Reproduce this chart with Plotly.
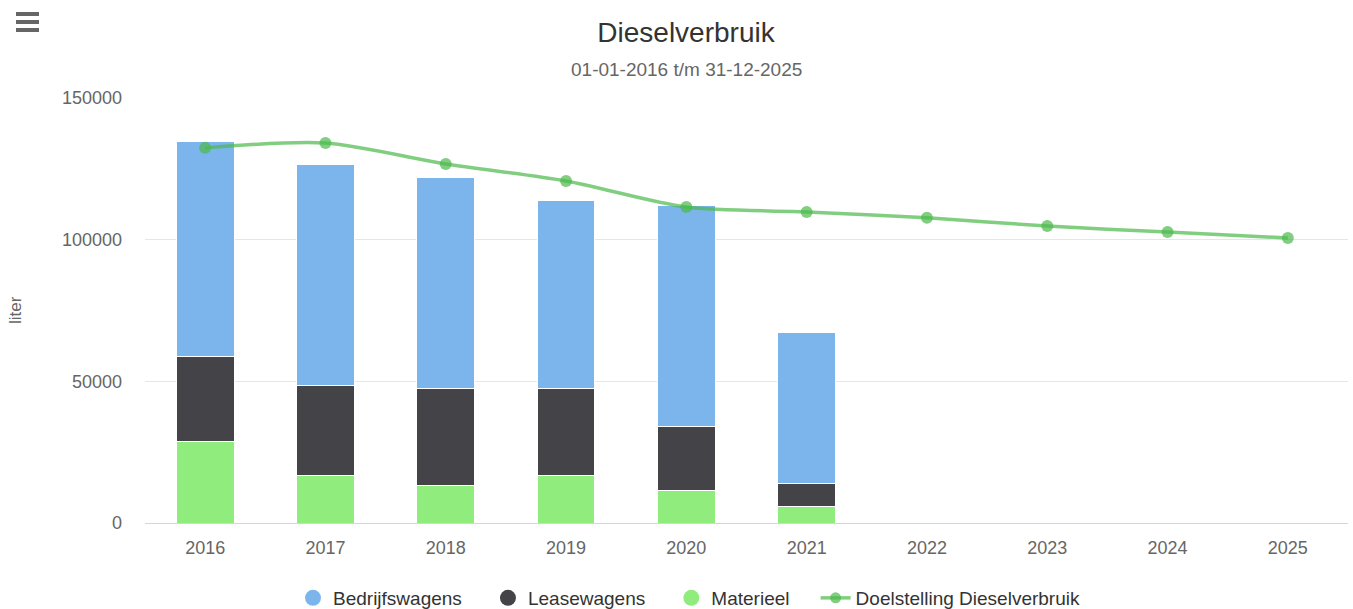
import plotly.graph_objects as go

years = ["2016", "2017", "2018", "2019", "2020", "2021", "2022", "2023", "2024", "2025"]
bedrijfswagens = [75900, 78300, 74800, 66400, 78000, 53300, None, None, None, None]
leasewagens = [29700, 31500, 34200, 30400, 22600, 8100, None, None, None, None]
materieel = [28900, 16900, 13100, 16900, 11300, 6000, None, None, None, None]
doelstelling = [132400, 134100, 126700, 120700, 111500, 109800, 107700, 104800, 102700, 100600]
y_ticks = [0, 50000, 100000, 150000]

C_BED = "#7cb5ec"
C_LEASE = "#434348"
C_MAT = "#90ed7d"
C_LINE = "rgba(76,185,76,0.7)"

W, H = 1353, 609
L, R, T, B = 145, 5, 98, 86
FONT = "Liberation Sans, Arial, sans-serif"
PAD = "\u00a0" * 4

fig = go.Figure()
for name, vals, col in [("Materieel", materieel, C_MAT), ("Leasewagens", leasewagens, C_LEASE),
                        ("Bedrijfswagens", bedrijfswagens, C_BED)]:
    fig.add_trace(go.Bar(x=years, y=vals, name=name, marker=dict(color=col, line=dict(color="white", width=1)),
                         legendgroup=name, showlegend=False))

fig.add_trace(go.Scatter(x=years, y=doelstelling, name="Doelstelling Dieselverbruik", mode="lines+markers",
                         line=dict(color=C_LINE, width=3.5, shape="spline", smoothing=0.8),
                         marker=dict(color=C_LINE, size=12), showlegend=False, legendgroup="doel"))

# legend entries (circle symbols like the reference)
for name, col in [("Bedrijfswagens", C_BED), ("Leasewagens", C_LEASE), ("Materieel", C_MAT)]:
    fig.add_trace(go.Scatter(x=[None], y=[None], mode="markers", name=name + PAD, legendgroup=name,
                             marker=dict(color=col, size=18, symbol="circle")))
fig.add_trace(go.Scatter(x=[None], y=[None], mode="lines+markers", name="Doelstelling Dieselverbruik",
                         legendgroup="doel", line=dict(color=C_LINE, width=3.5),
                         marker=dict(color=C_LINE, size=11)))

def px_x(p):
    return (p - L) / (W - L - R)

def px_y(p):
    return (H - B - p) / (H - T - B)

shapes = []
for yy in [14, 22, 30]:
    shapes.append(dict(type="line", xref="paper", yref="paper", x0=px_x(16), x1=px_x(39), y0=px_y(yy), y1=px_y(yy),
                       line=dict(color="#666666", width=4)))

fig.update_layout(
    width=W, height=H,
    margin=dict(l=L, r=R, t=T, b=B, autoexpand=False),
    barmode="stack",
    bargap=0.52,
    plot_bgcolor="white", paper_bgcolor="white",
    font=dict(family=FONT, color="#666666", size=18),
    title=dict(text="Dieselverbruik", x=686 / W, xanchor="center", xref="container",
               y=1 - 32 / H, yanchor="middle", yref="container",
               font=dict(size=28, color="#333333", family=FONT)),
    annotations=[dict(text="01-01-2016 t/m 31-12-2025", xref="paper", yref="paper", x=px_x(686),
                      y=px_y(69), xanchor="center", yanchor="middle", showarrow=False,
                      font=dict(size=19, color="#666666", family=FONT)),
                 dict(text="liter", xref="paper", yref="paper", x=px_x(15), y=px_y(310), textangle=-90,
                      xanchor="center", yanchor="middle", showarrow=False,
                      font=dict(size=17, color="#666666", family=FONT))],
    shapes=shapes,
    xaxis=dict(type="category", range=[-0.5, len(years) - 0.5], showgrid=False, showline=True,
               linecolor="#ccd6eb", linewidth=1,
               ticks="", tickfont=dict(size=18, color="#666666"), ticklabelstandoff=8, fixedrange=True,
               automargin=False),
    yaxis=dict(range=[0, 150000], tickvals=y_ticks, ticktext=[str(v) for v in y_ticks],
               showgrid=True, gridcolor="#e6e6e6", gridwidth=1, zeroline=False, showline=False,
               tickfont=dict(size=18, color="#666666"), ticklabelstandoff=22, automargin=False),
    legend=dict(orientation="h", x=689 / W, xanchor="center", xref="container",
                y=1 - 598 / H, yanchor="middle", yref="container",
                font=dict(size=19, color="#333333", family=FONT), itemsizing="trace", traceorder="normal",
                itemwidth=30),
    hovermode="x",
)

fig.write_html("out.html", config={"responsive": False, "displayModeBar": False},
               post_script="document.body.style.margin='0';document.body.style.overflow='hidden';")
